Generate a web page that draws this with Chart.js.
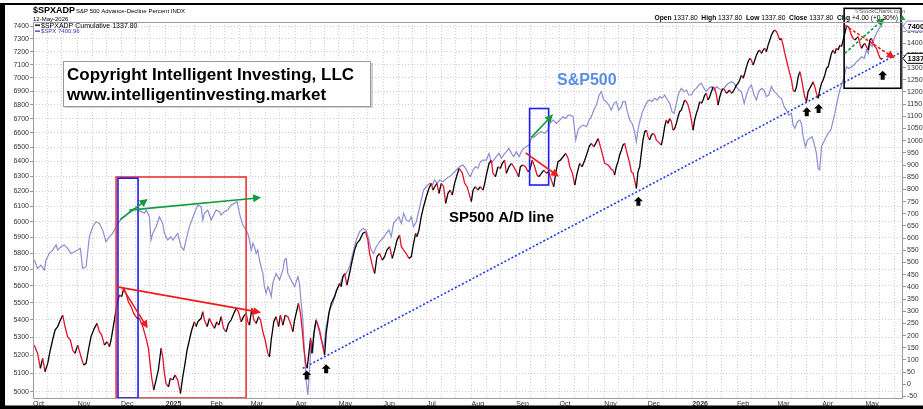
<!DOCTYPE html>
<html><head><meta charset="utf-8">
<script src="https://cdn.jsdelivr.net/npm/chart.js@4.4.1/dist/chart.umd.min.js"></script>
<style>html,body{margin:0;padding:0;background:#fff;overflow:hidden}#wrap{width:923px;height:409px}</style>
</head><body><div id="wrap"><canvas id="c" width="923" height="409"></canvas></div>
<script>
// x values are calendar days since 2024-10-01
const monthStartDays = [0,31,61,92,123,151,182,212,243,273,304,335,365,396,426,457,488,516,547,577];
const monthLabels = ['Oct','Nov','Dec','2025','Feb','Mar','Apr','May','Jun','Jul','Aug','Sep','Oct','Nov','Dec','2026','Feb','Mar','Apr','May'];
const spxTicks = [5000,5100,5200,5300,5400,5500,5600,5700,5800,5900,6000,6100,6200,6300,6400,6500,6600,6700,6800,6900,7000,7100,7200,7300,7400];
const adpTicks = [-50,0,50,100,150,200,250,300,350,400,450,500,550,600,650,700,750,800,850,900,950,1000,1050,1100,1150,1200,1250,1300,1350,1400,1450];

// $SPXADP Cumulative (right axis)
const adpDays = [
0.9,3.2,5.1,6.7,8.3,10.2,12.0,13.6,15.3,17.1,19.0,20.6,22.2,24.0,25.9,27.5,29.1,31.0,33.3,35.1,
36.8,38.4,40.2,42.5,44.4,46.0,47.6,49.5,51.3,53.0,54.1,56.4,58.3,59.9,61.5,62.9,64.5,66.1,68.0,69.8,
72.1,73.7,76.1,78.4,80.0,81.4,82.3,83.7,85.3,86.9,88.8,89.9,91.1,92.2,93.9,95.2,96.9,98.5,100.3,102.2,
103.8,105.4,106.8,108.4,110.0,111.9,113.1,114.2,116.5,117.7,118.8,120.7,122.3,123.9,125.8,127.4,128.8,130.4,132.0,133.9,
135.5,137.3,139.2,140.8,142.4,144.3,145.9,147.7,148.9,150.0,151.7,153.1,154.7,156.3,157.7,159.3,160.9,162.8,163.9,165.1,
166.9,168.5,170.2,171.5,173.2,174.8,176.6,178.5,180.1,181.3,182.9,184.0,185.4,186.6,187.7,188.9,190.0,191.2,192.4,193.3,194.7,
196.3,198.6,200.5,202.1,203.2,205.1,206.7,209.0,210.6,212.5,213.6,214.8,216.0,217.6,219.4,221.3,222.9,224.5,226.4,228.7,
230.5,232.1,233.3,235.1,236.8,238.4,240.2,242.1,243.7,245.3,247.2,249.0,250.6,252.3,254.1,255.3,256.9,258.7,260.6,262.2,
263.8,265.2,266.1,267.5,269.1,270.7,272.6,274.4,276.1,277.2,278.4,280.0,281.4,283.0,284.6,286.0,287.6,289.2,290.6,292.2,
293.9,295.3,296.2,297.6,299.2,300.8,302.2,303.8,305.0,306.6,308.4,310.0,311.9,313.1,314.2,316.1,317.7,318.8,320.5,322.3,
323.9,325.3,326.9,328.1,329.9,331.6,333.2,335.0,336.6,337.8,339.6,341.3,343.1,344.3,346.1,347.7,349.4,350.7,352.4,354.0,
355.8,357.4,359.3,360.9,362.3,363.9,365.5,367.4,369.2,370.9,372.0,373.9,375.5,377.1,378.9,380.6,382.4,384.0,385.4,387.0,
388.7,390.0,391.7,
393.9,395.1,396.2,397.4,398.5,399.7,400.8,402.0,403.1,404.3,405.5,406.6,407.8,408.9,410.1,411.2,412.4,413.6,414.7,415.9,
417.0,418.2,419.3,420.5,421.6,422.8,424.0,425.1,426.3,427.4,428.6,429.7,430.9,432.0,433.2,434.4,435.5,436.7,437.8,439.0,
440.1,441.3,442.5,443.6,444.8,445.9,447.1,448.2,449.4,450.5,451.7,452.9,454.0,455.2,456.3,457.5,458.6,459.8,460.9,462.1,
463.3,464.4,465.6,466.7,467.9,469.0,470.2,471.4,472.5,473.7,474.8,476.0,477.1,478.3,479.4,480.6,481.8,482.9,484.1,485.2,
486.4,487.5,488.7,489.8,491.0,492.2,493.3,494.5,495.6,496.8,497.9,499.1,500.3,501.4,502.6,503.7,504.9,506.0,507.2,508.3,
509.5,510.7,511.8,513.0,514.1,515.3,516.4,517.6,518.7,519.9,521.1,522.2,523.4,524.5,525.7,526.8,528.0,529.2,530.3,531.5,
532.6,533.8,534.9,536.1,537.2,538.4,539.6,540.7,541.9,543.0,544.2,545.3,546.5,547.6,548.8,550.0,551.1,552.3,553.4,554.6,
555.7,556.9,558.1,559.2,560.4,561.5,562.7,563.8,565.0,566.1,567.3,568.5,569.6,570.8,571.9,573.1,574.2,575.4,576.5,577.7,
578.9,580.0,581.2,582.3,583.5,584.6,585.8,586.9,587.9,588.8];
const adpValues = [
161,127,66,107,52,86,141,182,223,237,264,284,237,196,182,141,127,161,113,79,
86,141,196,230,250,216,202,161,175,155,182,264,332,367,360,394,373,339,319,291,
271,271,237,189,148,72,25,-23,18,59,148,113,45,4,-10,25,18,38,18,-37,
31,86,141,182,223,257,237,257,271,298,264,237,271,250,230,257,243,278,230,216,
250,264,291,312,298,257,278,291,257,243,312,264,250,278,264,216,182,127,113,182,
257,278,237,284,243,284,278,250,216,264,305,332,291,223,148,90,66,127,189,127,209,
264,223,168,120,209,291,332,360,387,414,401,442,455,407,455,510,551,579,592,620,
626,592,537,490,455,524,537,510,524,551,565,517,551,592,613,565,551,537,517,524,
579,620,606,633,688,729,770,804,825,797,811,825,784,825,811,743,784,797,777,825,
859,886,879,866,825,811,784,750,797,811,797,811,797,825,859,907,920,866,852,893,
886,907,920,866,893,907,893,873,852,893,900,893,873,879,920,893,859,852,866,879,
866,873,838,811,866,914,920,934,948,927,893,866,818,866,907,893,920,948,975,989,
975,989,1009,
961,934,907,904,900,893,882,879,859,893,914,941,961,982,989,961,934,907,872,866,
838,804,872,893,948,1003,1037,1043,1016,1003,1023,1030,1023,1003,996,989,982,1016,1057,1085,
1071,1091,1078,1043,1050,1071,1098,1119,1126,1146,1167,1160,1146,1119,1085,1043,1085,1112,1132,1160,
1153,1167,1187,1194,1167,1180,1201,1221,1214,1187,1146,1180,1201,1214,1208,1194,1201,1208,1194,1201,
1214,1228,1235,1249,1269,1256,1276,1303,1324,1338,1331,1310,1331,1351,1365,1372,1358,1372,1379,1365,
1392,1413,1433,1447,1454,1447,1433,1413,1420,1392,1358,1331,1303,1276,1249,1208,1201,1221,1262,1283,
1256,1215,1180,1160,1201,1215,1228,1242,1221,1194,1174,1208,1235,1249,1269,1297,1303,1331,1358,1372,
1358,1379,1372,1392,1386,1413,1440,1468,1470,1454,1433,1420,1413,1420,1427,1399,1379,1392,1399,1386,
1372,1413,1420,1399,1386,1379,1358,1342,1334,1338];

// $SPX (left axis, log)
const spxDays = [
0.9,3.2,5.5,7.9,9.0,11.3,13.6,16.0,17.1,19.4,21.7,24.0,26.4,28.7,31.0,32.8,34.4,36.8,39.1,41.4,
43.7,46.0,48.3,50.6,53.0,55.2,57.6,60.6,63.3,65.7,68.0,70.3,72.6,74.9,77.2,78.4,80.7,81.8,83.0,85.3,
87.6,89.9,91.1,93.4,95.7,96.9,100.3,102.6,104.5,106.1,108.4,111.9,114.2,116.5,117.7,118.8,121.1,123.5,124.6,126.9,
129.2,130.4,132.7,135.0,137.3,139.6,141.5,143.1,145.4,147.7,148.9,150.0,151.2,152.4,153.5,154.7,155.8,157.0,158.1,159.3,
160.4,161.6,162.8,163.9,165.1,166.2,168.5,170.9,173.2,174.3,175.5,176.6,178.9,181.3,183.6,184.7,185.9,187.0,188.2,189.3,
190.5,191.7,192.8,194.0,195.1,
196.3,198.1,199.8,201.4,203.2,205.5,207.9,210.2,212.5,214.8,217.1,219.4,221.7,224.0,226.4,228.7,231.0,232.8,234.4,236.1,
237.9,240.2,242.5,244.9,246.7,248.3,249.9,251.8,253.6,255.3,256.9,258.7,260.6,262.2,263.8,265.7,267.5,269.1,270.7,272.6,
274.9,276.8,278.4,280.0,281.8,284.2,286.5,288.8,291.1,293.4,295.7,298.0,299.9,301.5,303.1,305.0,306.8,308.4,310.1,311.9,
314.2,316.1,317.7,319.3,321.1,323.0,324.6,326.2,328.1,329.9,331.6,333.2,335.0,336.9,338.5,340.1,342.0,343.8,345.4,347.7,
350.1,352.4,354.7,357.0,358.1,360.5,362.8,365.1,367.4,369.2,370.9,372.5,374.3,376.2,377.8,379.4,381.3,383.6,385.4,387.0,
388.7,390.5,392.4,
393.9,395.7,397.4,399.0,400.8,402.7,404.3,405.9,407.8,408.9,410.5,411.9,413.6,415.2,417.0,418.2,419.3,420.5,422.1,424.0,
425.8,427.4,429.0,430.9,432.7,434.4,436.0,437.8,439.7,441.3,442.9,444.3,445.9,447.5,449.4,451.2,452.9,454.5,456.3,458.2,
459.8,461.4,463.3,465.1,466.7,468.3,470.2,472.0,473.7,475.3,477.1,479.0,480.6,482.2,484.1,485.9,487.5,489.2,491.0,492.9,
494.5,496.1,497.9,499.8,501.4,503.0,504.9,506.7,508.3,510.0,511.8,513.7,515.3,516.9,518.7,520.6,522.2,523.8,525.7,526.8,
528.0,529.8,531.5,532.6,533.8,535.4,536.8,538.4,540.0,541.4,543.0,544.2,545.3,546.5,547.6,549.3,551.1,553.0,554.6,555.7,
557.6,559.2,560.8,562.2,563.8,565.5,567.3,569.1,570.8,572.4,574.2,576.1,577.7,578.9,580.0,581.6,583.0,584.6,586.3,587.6,588.8];
const spxValues = [
5758,5707,5727,5697,5758,5799,5820,5852,5820,5841,5852,5831,5799,5810,5820,5831,5707,5717,5904,5968,
6000,5989,5946,5872,5904,5925,5968,6011,6032,6054,6075,6086,6075,6065,6054,6075,6032,5883,5925,5968,
6032,5989,5925,5883,5904,5883,5925,5841,5820,5883,5968,6054,6108,6097,6011,6054,6075,6011,6032,6075,
6065,6043,6065,6075,6108,6119,6130,6054,5978,5946,5925,5883,5820,5862,5841,5799,5820,5758,5717,5676,
5596,5556,5596,5576,5536,5616,5676,5636,5697,5758,5768,5676,5636,5596,5656,5616,5497,5400,5210,5063,
4982,5118,5285,5210,5361,
5400,5342,5285,5229,5361,5458,5497,5576,5606,5656,5676,5717,5799,5883,5936,5957,5946,5883,5820,5799,
5841,5872,5894,5925,5946,5904,5989,6011,6032,5989,6054,6011,6000,6032,5968,6000,6075,6141,6207,6229,
6252,6241,6274,6252,6274,6263,6285,6297,6319,6342,6365,6376,6353,6319,6297,6342,6365,6353,6399,6410,
6410,6456,6387,6410,6433,6456,6422,6445,6468,6491,6456,6433,6468,6433,6468,6491,6503,6514,6561,6573,
6596,6608,6596,6620,6667,6691,6667,6691,6715,6703,6727,6727,6715,6549,6620,6644,6655,6644,6691,6715,
6763,6800,6873,
6898,6836,6824,6800,6763,6812,6824,6763,6788,6824,6824,6751,6691,6667,6608,6537,6620,6679,6739,6788,
6824,6836,6824,6849,6836,6861,6849,6873,6836,6812,6751,6739,6812,6885,6922,6898,6910,6873,6873,6910,
6922,6947,6960,6922,6898,6922,6935,6910,6935,6922,6910,6922,6947,6960,6972,6960,6935,6910,6898,6812,
6873,6922,6947,6873,6836,6898,6922,6910,6861,6873,6935,6898,6885,6861,6849,6788,6763,6727,6739,6655,
6632,6679,6691,6667,6573,6503,6549,6561,6573,6526,6456,6353,6342,6503,6526,6561,6596,6620,6691,6739,
6836,6910,6960,7010,7085,7072,7085,7098,7123,7136,7161,7149,7213,7187,7265,7239,7304,7343,7382,7395,7401];

// blue dotted support line on the A/D line
const trendDays = [187, 603];
const trendValues = [66, 1367];

// annotations (data coordinates)
const boxAnnots = [
  {x0:57.6, x1:147.7, axis:'yR', y0:851, y1:-56, color:'#ee3535'},
  {x0:58.9, x1:72.8, axis:'yR', y0:846, y1:-56, color:'#1c1cf5'},
  {x0:344.2, x1:357.4, axis:'yR', y0:1132, y1:818, color:'#1c1cf5'},
  {x0:562.2, x1:601.6, axis:'yR', y0:1543, y1:1215, color:'#000000'}
];
const arrowAnnots = [
  {x0:60.5, y0:6015, x1:79.5, y1:6148, axis:'yL', color:'#139a3c', dash:false},
  {x0:66.8, y0:6075, x1:158.1, y1:6157, axis:'yL', color:'#139a3c', dash:false},
  {x0:58.3, y0:400, x1:158.1, y1:295, axis:'yR', color:'#ee1c1c', dash:false},
  {x0:62.2, y0:394, x1:79.5, y1:230, axis:'yR', color:'#ee1c1c', dash:false},
  {x0:345.4, y0:6568, x1:360.4, y1:6732, axis:'yL', color:'#139a3c', dash:false},
  {x0:341.4, y0:950, x1:364.6, y1:852, axis:'yR', color:'#ee1c1c', dash:false},
  {x0:562.6, y0:1474, x1:597.3, y1:1338, axis:'yR', color:'#ee1c1c', dash:true},
  {x0:562.6, y0:7187, x1:590.3, y1:7463, axis:'yL', color:'#139a3c', dash:true}
];
const upArrowDays = [189.7, 203.2, 419.6, 536.3, 544.5, 588.9];
const upArrowValues = [57, 83, 770, 1137, 1150, 1287];

const FONT = 'Liberation Sans';
const labelMap = {};
monthStartDays.forEach((d,i)=>{ labelMap[d] = monthLabels[i]; });
const xTickVals = [];
monthStartDays.forEach((d,i)=>{
  xTickVals.push(d);
  const next = i+1 < monthStartDays.length ? monthStartDays[i+1] : 603;
  [10,20].forEach(o=>{ if (d+o < next-3) xTickVals.push(d+o); });
});

function arrow(ctx,x0,y0,x1,y1,color,dash){
  const a = Math.atan2(y1-y0,x1-x0), hl=8, hw=4;
  ctx.save();
  ctx.strokeStyle=color; ctx.fillStyle=color; ctx.lineWidth=1.6;
  if (dash) ctx.setLineDash([3,2]);
  ctx.beginPath(); ctx.moveTo(x0,y0);
  ctx.lineTo(x1-hl*0.8*Math.cos(a), y1-hl*0.8*Math.sin(a)); ctx.stroke();
  ctx.setLineDash([]);
  ctx.beginPath(); ctx.moveTo(x1,y1);
  ctx.lineTo(x1-hl*Math.cos(a)+hw*Math.sin(a), y1-hl*Math.sin(a)-hw*Math.cos(a));
  ctx.lineTo(x1-hl*Math.cos(a)-hw*Math.sin(a), y1-hl*Math.sin(a)+hw*Math.cos(a));
  ctx.closePath(); ctx.fill();
  ctx.restore();
}
function upArrow(ctx,x,y){
  ctx.beginPath();
  ctx.moveTo(x,y); ctx.lineTo(x+4.5,y+4.5); ctx.lineTo(x+2,y+4.5); ctx.lineTo(x+2,y+9);
  ctx.lineTo(x-2,y+9); ctx.lineTo(x-2,y+4.5); ctx.lineTo(x-4.5,y+4.5); ctx.closePath();
  ctx.fillStyle='#000'; ctx.fill();
}
function tag(ctx,y,text,border){
  ctx.save();
  ctx.beginPath();
  ctx.moveTo(903,y); ctx.lineTo(907,y-5); ctx.lineTo(930,y-5); ctx.lineTo(930,y+5); ctx.lineTo(907,y+5); ctx.closePath();
  ctx.fillStyle='#fff'; ctx.fill(); ctx.strokeStyle=border; ctx.lineWidth=1; ctx.stroke();
  ctx.fillStyle='#000'; ctx.font='bold 7.5px '+FONT; ctx.textBaseline='middle'; ctx.textAlign='left';
  ctx.fillText(text,907.5,y+0.5);
  ctx.restore();
}

const overlay = {
  id:'overlay',
  beforeDraw(chart){
    const ctx=chart.ctx; ctx.save(); ctx.fillStyle='#fff'; ctx.fillRect(0,0,chart.width,chart.height); ctx.restore();
  },
  afterDatasetsDraw(chart){
    const ctx=chart.ctx, sx=chart.scales.x;
    const Y = (axis,v)=>chart.scales[axis].getPixelForValue(v);
    ctx.save();
    // copyright box
    ctx.fillStyle='rgba(0,0,0,0.18)'; ctx.fillRect(65,63,308,45);
    ctx.fillStyle='#fff'; ctx.fillRect(63,61,307,45);
    ctx.strokeStyle='#9a9a9a'; ctx.lineWidth=1; ctx.strokeRect(63.5,61.5,307,45);
    ctx.fillStyle='#000'; ctx.font='bold 17px '+FONT; ctx.textBaseline='alphabetic'; ctx.textAlign='left';
    ctx.fillText('Copyright Intelligent Investing, LLC',67,80);
    ctx.fillText('www.intelligentinvesting.market',67,100);
    // labels
    ctx.font='bold 16px '+FONT; ctx.fillStyle='#5b8ee6'; ctx.fillText('S&P500',557,85);
    ctx.font='bold 15px '+FONT; ctx.fillStyle='#000'; ctx.fillText('SP500 A/D line',449,222);
    // boxes
    boxAnnots.forEach(b=>{
      const x0=sx.getPixelForValue(b.x0), x1=sx.getPixelForValue(b.x1);
      const y0=Y(b.axis,b.y0), y1=Y(b.axis,b.y1);
      ctx.strokeStyle=b.color; ctx.lineWidth=1.6;
      ctx.strokeRect(x0,Math.min(y0,y1),x1-x0,Math.abs(y1-y0));
    });
    arrowAnnots.forEach(a=>{
      arrow(ctx,sx.getPixelForValue(a.x0),Y(a.axis,a.y0),sx.getPixelForValue(a.x1),Y(a.axis,a.y1),a.color,a.dash);
    });
    upArrowDays.forEach((d,i)=>upArrow(ctx,sx.getPixelForValue(d),Y('yR',upArrowValues[i])));
    ctx.restore();
  },
  afterDraw(chart){
    const ctx=chart.ctx, ca=chart.chartArea;
    ctx.save();
    // plot frame
    ctx.strokeStyle='#9c9c9c'; ctx.lineWidth=1;
    ctx.strokeRect(ca.left+0.5,ca.top+0.5,ca.right-ca.left-1,ca.bottom-ca.top);
    // legend
    ctx.textBaseline='alphabetic'; ctx.textAlign='left';
    ctx.fillStyle='#000'; ctx.fillRect(35,24.5,5,1.3);
    ctx.font='7px '+FONT; ctx.fillText('$SPXADP Cumulative 1337.80',41,28);
    ctx.fillStyle='#3a3ab8'; ctx.fillRect(35,30.5,5,1.3);
    ctx.font='6px '+FONT; ctx.fillText('$SPX 7400.96',41,33);
    // header
    ctx.fillStyle='#000';
    ctx.font='bold 9px '+FONT; ctx.fillText('$SPXADP',33,13);
    ctx.font='6px '+FONT; ctx.fillText('S&P 500 Advance-Decline Percent INDX',76,13);
    ctx.fillText('12-May-2026',33,21);
    ctx.fillStyle='#555'; ctx.textAlign='right'; ctx.fillText('\u00A9StockCharts.com',905,13);
    const parts=[['Open',1],[' 1337.80  ',0],['High',1],[' 1337.80  ',0],['Low',1],[' 1337.80  ',0],['Close',1],[' 1337.80  ',0],['Chg',1],[' +4.00 (+0.30%)',0]];
    let w=0; parts.forEach(p=>{ctx.font=(p[1]?'bold ':'')+'6.7px '+FONT; w+=ctx.measureText(p[0]).width;});
    let x=898-w; ctx.textAlign='left'; ctx.fillStyle='#000';
    parts.forEach(p=>{ctx.font=(p[1]?'bold ':'')+'6.7px '+FONT; ctx.fillText(p[0],x,20); x+=ctx.measureText(p[0]).width;});
    ctx.fillStyle='#1a9a3a'; ctx.beginPath(); ctx.moveTo(902.5,15.5); ctx.lineTo(905.5,20); ctx.lineTo(899.5,20); ctx.closePath(); ctx.fill();
    // value tags
    tag(ctx, chart.scales.yL.getPixelForValue(7400.96), '7400.96', '#8d8dd4');
    tag(ctx, chart.scales.yR.getPixelForValue(1337.8), '1337.80', '#000');
    // outer black frame
    ctx.fillStyle='#000';
    ctx.fillRect(0,3,923,2); ctx.fillRect(0,3,5,406); ctx.fillRect(0,405.5,923,4);
    ctx.restore();
  }
};

new Chart(document.getElementById('c'), {
  type:'line',
  data:{ datasets:[
    { label:'$SPXADP Cumulative', yAxisID:'yR', data: adpDays.map((d,i)=>({x:d,y:adpValues[i]})),
      borderColor:'#000', borderWidth:1.3, pointRadius:0, tension:0,
      segment:{ borderColor: c => c.p1.parsed.y < c.p0.parsed.y ? '#e3122c' : '#000' } },
    { label:'$SPX', yAxisID:'yL', data: spxDays.map((d,i)=>({x:d,y:spxValues[i]})),
      borderColor:'#8d8dd4', borderWidth:1.2, pointRadius:0, tension:0 },
    { label:'trend', yAxisID:'yR', data: trendDays.map((d,i)=>({x:d,y:trendValues[i]})),
      borderColor:'#1f3af0', borderWidth:1.6, borderDash:[2,2], pointRadius:0 }
  ]},
  options:{
    responsive:false, devicePixelRatio:1, animation:false,
    layout:{ padding:{ top:22, left:0, right:0, bottom:0 } },
    plugins:{ legend:{display:false}, tooltip:{enabled:false} },
    scales:{
      x:{ type:'linear', min:0, max:603, position:'bottom',
        afterBuildTicks: s => { s.ticks = xTickVals.map(v=>({value:v})); },
        afterFit: s => { s.height = 11; },
        grid:{ color:'#cfcfcf', lineWidth:1, drawTicks:false },
        border:{ display:false, dash:[1,2] },
        ticks:{ autoSkip:false, maxRotation:0, minRotation:0, align:'start', padding:2, color:'#333',
          font: c => ({ family:FONT, size:7, weight: (c.tick && /^\d{4}$/.test(labelMap[c.tick.value]||'')) ? 'bold' : 'normal' }),
          callback: v => labelMap[v] !== undefined ? labelMap[v] : '' } },
      yL:{ type:'logarithmic', position:'left', min:4966, max:7433,
        afterBuildTicks: s => { s.ticks = spxTicks.map(v=>({value:v})); },
        afterFit: s => { s.width = 33; },
        grid:{ color:'#cfcfcf', lineWidth:1, drawTicks:true, tickLength:3, tickColor:'#999' },
        border:{ display:false, dash:[1,2] },
        ticks:{ padding:1, color:'#333', font:{family:FONT, size:7}, callback: v => String(v) } },
      yR:{ type:'linear', position:'right', min:-56, max:1487,
        afterBuildTicks: s => { s.ticks = adpTicks.map(v=>({value:v})); },
        afterFit: s => { s.width = 20; },
        grid:{ drawOnChartArea:false, drawTicks:true, tickLength:3, tickColor:'#999' },
        border:{ display:false },
        ticks:{ padding:1, color:'#333', font:{family:FONT, size:7}, callback: v => String(v) } }
    }
  },
  plugins:[overlay]
});
</script></body></html>
